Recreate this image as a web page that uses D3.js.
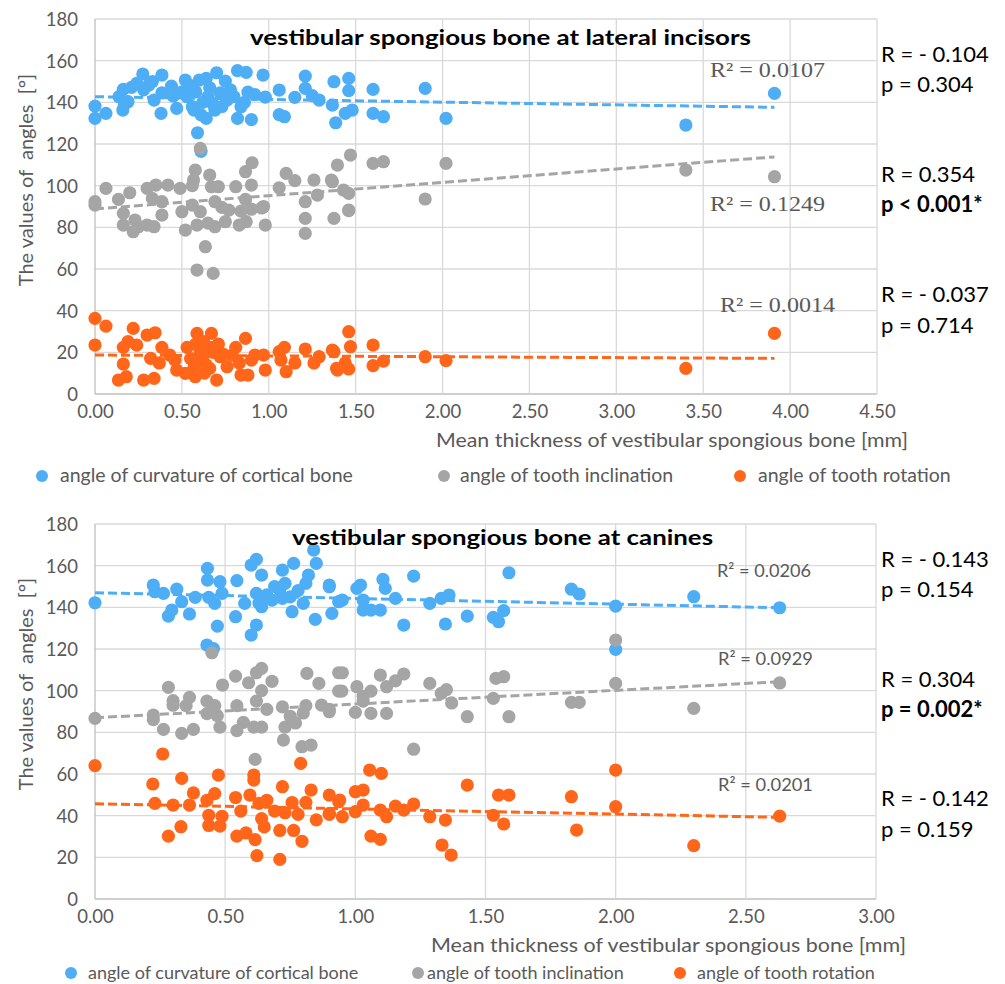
<!DOCTYPE html>
<html>
<head>
<meta charset="utf-8">
<script src="https://cdn.jsdelivr.net/npm/d3@7"></script>
<style>
  html, body { margin: 0; padding: 0; background: #fff; }
  svg { display: block; }
</style>
</head>
<body>
<svg id="chart" width="1005" height="984"></svg>
<script>
// ---------- DATA ----------
const yTicks = [0, 20, 40, 60, 80, 100, 120, 140, 160, 180];
const xTicksIncisors = [0, 0.5, 1, 1.5, 2, 2.5, 3, 3.5, 4, 4.5];
const xTicksCanines = [0, 0.5, 1, 1.5, 2, 2.5, 3];
const seriesNames = ["angle of curvature of cortical bone", "angle of tooth inclination", "angle of tooth rotation"];
const seriesColors = ["#4DAEF6", "#A5A5A5", "#FF6619"];

// Lateral incisors: [thickness mm, angle °]
const incisorsCurvature = [[0,138.2],[0,132.3],[0.063,134.7],[0.138,142.7],[0.163,146.2],[0.16,136.3],[0.19,140.3],[0.21,147.2],[0.24,149.1],[0.275,153.6],[0.31,148.3],[0.34,141.1],[0.38,134.7],[0.385,153.1],[0.385,144.6],[0.44,147.8],[0.47,137.1],[0.52,150.7],[0.53,142.7],[0.56,137.9],[0.59,125.4],[0.57,136.3],[0.6,150.7],[0.64,151.5],[0.64,132.3],[0.65,142.7],[0.69,136.3],[0.70,154.2],[0.72,144.6],[0.75,150.2],[0.76,141.1],[0.8,142.7],[0.82,155.2],[0.82,132.3],[0.84,137.9],[0.87,154.4],[0.88,144.9],[0.90,131.7],[0.92,143.7],[0.967,153.1],[0.98,142.5],[1.06,145.9],[1.06,134.1],[1.09,133.1],[1.15,142.4],[1.21,152.6],[1.21,146.7],[1.25,143.2],[1.29,141.1],[1.375,149.9],[1.366,138.7],[1.385,130.2],[1.46,151.5],[1.46,145.6],[1.44,134.7],[1.48,136.3],[1.6,146.2],[1.6,134.7],[1.66,133.1],[1.9,146.7],[2.02,132.3],[3.40,129.1],[3.91,144.3],[0.58,145],[0.62,140],[0.66,147],[0.68,139],[0.55,148],[0.61,134],[0.73,138],[0.78,146],[0.86,140],[0.45,143],[0.5,145],[0.28,146],[0.33,150],[0.17,139],[0.61,116.5]];
const incisorsInclination = [[0,92.3],[0.063,98.7],[0.135,93.4],[0.2,96.6],[0.30,98.7],[0.35,100.3],[0.33,93.9],[0.385,92.3],[0.42,100.3],[0.49,98.7],[0.56,100],[0.577,107.5],[0.567,102.7],[0.606,87.5],[0.606,117.9],[0.66,105.1],[0.67,99.5],[0.71,99.5],[0.69,92.3],[0.73,89.6],[0.81,99.5],[0.866,106.7],[0.904,111],[0.90,100.3],[0.866,93.4],[0.84,87.8],[0.96,89.3],[1.06,99.0],[1.10,105.9],[1.15,102.4],[1.21,92.3],[1.26,102.7],[1.28,95.5],[1.366,101.9],[1.395,109.9],[1.47,114.7],[1.46,96.3],[1.36,102.7],[1.43,97.9],[1.6,110.7],[1.66,111.5],[2.02,110.7],[1.90,93.6],[1.46,88.0],[3.40,107.5],[3.91,104.3],[0,90.7],[0.163,86.7],[0.163,81.1],[0.22,77.9],[0.23,83.5],[0.30,81.1],[0.34,80.3],[0.25,80.3],[0.385,85.9],[0.50,87.5],[0.52,78.7],[0.56,90.7],[0.587,81.1],[0.65,82],[0.635,70.7],[0.587,59.5],[0.68,57.9],[0.69,80.3],[0.75,82.7],[0.77,88.3],[0.83,81.1],[0.87,82.7],[0.90,88.7],[0.97,90],[0.98,81.1],[1.21,84.3],[1.21,77.1],[1.375,84.3],[1.46,88.3]];
const incisorsRotation = [[0,36.3],[0,23.5],[0.063,32.6],[0.135,6.7],[0.18,8.3],[0.163,14.4],[0.163,22.4],[0.19,25.1],[0.22,31.5],[0.24,23.5],[0.28,6.7],[0.34,7.5],[0.30,28.3],[0.346,29.4],[0.32,17.1],[0.385,22.4],[0.37,14.9],[0.43,18.7],[0.46,16.3],[0.47,11.5],[0.52,9.9],[0.53,22.4],[0.587,29.1],[0.577,8.3],[0.60,16.3],[0.606,20.3],[0.625,25.1],[0.67,29.1],[0.67,22.4],[0.66,12.3],[0.70,6.7],[0.72,17.9],[0.76,13.1],[0.79,18.7],[0.81,22.4],[0.83,14.9],[0.866,26.7],[0.84,9.1],[0.88,9.1],[0.90,16.3],[0.92,18.7],[0.97,18.7],[0.98,11.5],[1.06,20.3],[1.09,22.4],[1.07,16.3],[1.10,10.7],[1.15,14.9],[1.21,21.6],[1.26,14.9],[1.29,17.9],[1.366,21.1],[1.39,12.3],[1.375,20.3],[1.395,11.5],[1.46,29.9],[1.47,22.7],[1.44,14.9],[1.46,12.0],[1.6,23.5],[1.6,13.6],[1.66,15.8],[1.9,17.9],[2.02,16.0],[3.40,12.3],[3.91,29.1],[0.58,24],[0.62,18],[0.64,14],[0.68,20],[0.55,17],[0.63,10],[0.71,24],[0.74,19],[0.57,13]];

// Canines: [thickness mm, angle °]
const caninesCurvature = [[0,142.2],[0.224,150.7],[0.23,147.5],[0.263,146.7],[0.282,135.8],[0.295,138.7],[0.314,148.7],[0.333,142.7],[0.363,136.8],[0.385,144.8],[0.432,158.7],[0.432,153.1],[0.43,121.9],[0.455,120.2],[0.437,144.8],[0.46,141.9],[0.47,131],[0.48,152.3],[0.488,146.7],[0.54,135.5],[0.545,152.8],[0.575,141.9],[0.60,160.3],[0.62,163],[0.62,131.5],[0.60,126.7],[0.64,155.5],[0.62,146.7],[0.64,140.3],[0.68,143.5],[0.71,148.3],[0.72,157.9],[0.73,151.5],[0.72,144.3],[0.757,137.9],[0.763,161.1],[0.80,141.9],[0.82,155.5],[0.85,161.1],[0.84,167.5],[0.81,151.5],[0.846,134.2],[0.90,150.7],[0.91,137.1],[0.936,142.7],[0.90,149.9],[0.95,143.5],[1.006,149.1],[1.02,150.7],[1.03,143.5],[1.03,138.7],[1.06,138.7],[1.096,138.7],[1.106,153.4],[1.115,149.1],[1.154,144.3],[1.186,131.5],[1.224,155],[1.286,141.9],[1.33,144.3],[1.36,145.9],[1.346,132],[1.43,135.8],[1.53,135.2],[1.55,133.1],[1.57,138.4],[1.59,156.6],[1.83,148.7],[1.86,146.4],[2.0,140.6],[2.0,119.8],[2.30,145.1],[2.63,139.8],[0.66,146],[0.69,150],[0.75,145],[0.78,148],[0.63,142]];
const caninesInclination = [[0,86.7],[0.224,88.3],[0.282,101.6],[0.30,95.2],[0.363,96.8],[0.35,92.8],[0.449,118.2],[0.49,102.7],[0.43,95],[0.46,92.8],[0.54,107],[0.545,92.8],[0.59,103.8],[0.62,108.6],[0.64,110.7],[0.64,100.0],[0.62,95],[0.68,104.5],[0.66,91],[0.72,92.2],[0.814,108.3],[0.86,103.5],[0.81,92.8],[0.75,87.7],[0.936,108.6],[0.90,91],[0.936,99.8],[0.224,86.1],[0.263,81.4],[0.333,79.5],[0.378,81.4],[0.48,82.5],[0.545,80.8],[0.57,84.8],[0.61,82.5],[0.64,82.5],[0.615,67.0],[0.724,76.3],[0.73,82.5],[0.77,84.5],[0.795,73.1],[0.83,73.9],[0.80,89.3],[0.90,89.9],[0.87,93.1],[0.43,89],[0.30,93],[0.47,88],[0.95,108.6],[0.948,99.8],[1.006,101.9],[1.03,97.3],[1.06,99.8],[1.03,95],[1.096,107.5],[1.12,101.9],[1.154,104.7],[1.186,108],[1.286,103.5],[1.33,98.7],[1.35,100.5],[1.37,94.1],[1.0,89.6],[1.06,89.1],[1.12,89.1],[1.43,87.5],[1.53,96.3],[1.54,105.9],[1.57,106.7],[1.59,87.5],[1.83,94.4],[1.86,94.4],[2.0,124.3],[2.0,103.5],[1.224,71.9],[2.30,91.5],[2.63,103.7]];
const caninesRotation = [[0,64],[0.222,55.2],[0.26,69.6],[0.23,45.9],[0.30,45.1],[0.282,30.2],[0.33,34.7],[0.333,57.9],[0.363,45.1],[0.378,50.9],[0.43,47.4],[0.437,40.2],[0.437,35.3],[0.474,59.5],[0.46,50.6],[0.48,35],[0.488,39.7],[0.54,48.7],[0.56,42.2],[0.545,30.2],[0.58,31.7],[0.615,28.5],[0.622,20.8],[0.61,59.5],[0.61,57.1],[0.595,49.9],[0.63,45.9],[0.64,38.6],[0.65,34.6],[0.66,47.4],[0.69,42.2],[0.71,19.0],[0.72,53.9],[0.71,32.9],[0.73,41.4],[0.757,46.3],[0.763,32.9],[0.79,65.1],[0.795,27.7],[0.78,40.6],[0.81,46.4],[0.83,52.3],[0.85,38.0],[0.90,49.9],[0.90,40.6],[0.936,46.7],[0.90,41.1],[0.94,47.5],[0.95,39.5],[1.0,51.5],[1.03,52.3],[1.03,45.1],[1.00,41.9],[1.055,61.9],[1.10,60.3],[1.06,30.2],[1.096,28.6],[1.096,42.7],[1.12,39.5],[1.154,44.6],[1.186,42.7],[1.224,45.6],[1.286,39.5],[1.346,37.9],[1.333,25.9],[1.368,21.1],[1.43,54.7],[1.53,40.2],[1.55,49.9],[1.59,49.9],[1.57,36.0],[1.83,49.1],[1.85,33.1],[2.0,61.9],[2.0,44.3],[2.30,25.6],[2.63,39.8]];

// Linear trend lines: [value at x=0, value at last x], last x
const incisorsTrend = [[142.7, 137.6], [88.8, 113.8], [18.7, 17.1]];
const incisorsTrendEnd = 3.91;
const caninesTrend = [[147.0, 139.8], [87.0, 104.3], [45.7, 39.2]];
const caninesTrendEnd = 2.63;

const incisorsR2 = ["R² = 0.0107", "R² = 0.1249", "R² = 0.0014"];
const caninesR2 = ["R² = 0.0206", "R² = 0.0929", "R² = 0.0201"];
const incisorsStats = [["R = - 0.104", "p = 0.304"], ["R = 0.354", "p < 0.001*"], ["R = - 0.037", "p = 0.714"]];
const caninesStats = [["R = - 0.143", "p = 0.154"], ["R = 0.304", "p = 0.002*"], ["R = - 0.142", "p = 0.159"]];
const boldStat = [false, true, false];

// ---------- DRAWING ----------
const svg = d3.select("#chart");
const FONT = "Lato, 'Open Sans', sans-serif";

function drawPanel(cfg) {
  const g = svg.append("g");
  const x = d3.scaleLinear().domain(cfg.xDomain).range(cfg.xRange);
  const y = d3.scaleLinear().domain([0, 180]).range(cfg.yRange);

  // gridlines
  g.append("g").selectAll("line.h").data(yTicks).join("line")
    .attr("x1", x(cfg.xDomain[0])).attr("x2", x(cfg.xDomain[1]))
    .attr("y1", d => y(d)).attr("y2", d => y(d))
    .attr("stroke", d => d === 0 ? "#BFBFBF" : "#D9D9D9").attr("stroke-width", 1.3);
  g.append("g").selectAll("line.v").data(cfg.xTicks).join("line")
    .attr("x1", d => x(d)).attr("x2", d => x(d))
    .attr("y1", y(0)).attr("y2", y(180))
    .attr("stroke", d => d === 0 ? "#BFBFBF" : "#D9D9D9").attr("stroke-width", 1.3);

  // axis tick labels via d3 axes
  const yAxis = d3.axisLeft(y).tickValues(yTicks).tickSize(0).tickPadding(0).tickFormat(d3.format("d"));
  const ya = g.append("g").attr("transform", `translate(${x(0) - 17},0)`).call(yAxis);
  ya.select(".domain").remove();
  ya.selectAll("text").attr("font-family", FONT).attr("font-size", 18.5).attr("fill", "#595959").attr("dy", "0.35em");

  const xAxis = d3.axisBottom(x).tickValues(cfg.xTicks).tickSize(0).tickPadding(0).tickFormat(d => d.toFixed(2));
  const xa = g.append("g").attr("transform", `translate(0,${y(0) + 11})`).call(xAxis);
  xa.select(".domain").remove();
  xa.selectAll("text").attr("font-family", FONT).attr("font-size", 18.5).attr("fill", "#595959");

  // points
  cfg.series.forEach((s, i) => {
    g.append("g").selectAll("circle").data(s).join("circle")
      .attr("cx", d => x(d[0])).attr("cy", d => y(d[1])).attr("r", 6.6)
      .attr("fill", seriesColors[i]);
  });

  // trend lines
  cfg.trend.forEach((t, i) => {
    g.append("line")
      .attr("x1", x(0)).attr("y1", y(t[0]))
      .attr("x2", x(cfg.trendEnd)).attr("y2", y(t[1]))
      .attr("stroke", seriesColors[i]).attr("stroke-width", 3)
      .attr("stroke-dasharray", "9,4");
  });

  // R² labels
  cfg.r2.forEach((t, i) => {
    g.append("text").attr("x", cfg.r2Pos[i][0]).attr("y", cfg.r2Pos[i][1])
      .attr("font-family", cfg.r2Font).attr("font-size", cfg.r2Size).attr("fill", "#595959")
      .attr("textLength", cfg.r2Pos[i][2]).attr("lengthAdjust", "spacingAndGlyphs")
      .text(t);
  });

  // title
  g.append("text").attr("x", cfg.titlePos[0]).attr("y", cfg.titlePos[1])
    .attr("font-family", FONT).attr("font-weight", "bold").attr("font-size", 21).attr("fill", "#000")
    .attr("textLength", cfg.titlePos[2]).attr("lengthAdjust", "spacingAndGlyphs")
    .text(cfg.title);

  // y axis title
  g.append("text")
    .attr("transform", `translate(${cfg.yTitle[0]},${cfg.yTitle[1]}) rotate(-90)`)
    .attr("text-anchor", "middle").attr("font-family", FONT).attr("font-size", 20).attr("fill", "#595959")
    .attr("xml:space", "preserve")
    .text("The values of  angles  [°]");

  // x axis title
  g.append("text").attr("x", cfg.xTitle[0]).attr("y", cfg.xTitle[1])
    .attr("font-family", FONT).attr("font-size", 20).attr("fill", "#595959")
    .attr("textLength", cfg.xTitle[2]).attr("lengthAdjust", "spacingAndGlyphs")
    .text("Mean thickness of vestibular spongious bone [mm]");

  // stats
  cfg.stats.forEach((pair, i) => {
    g.append("text").attr("x", 881).attr("y", cfg.statY[i][0])
      .attr("font-family", FONT).attr("font-size", 22).attr("fill", "#000").text(pair[0]);
    g.append("text").attr("x", 881).attr("y", cfg.statY[i][1])
      .attr("font-family", FONT).attr("font-size", 22).attr("fill", "#000")
      .attr("font-weight", boldStat[i] ? "bold" : "normal").text(pair[1]);
  });

  // legend
  seriesNames.forEach((n, i) => {
    const lp = cfg.legend[i];
    g.append("circle").attr("cx", lp[0]).attr("cy", cfg.legendY - 6).attr("r", 6).attr("fill", seriesColors[i]);
    g.append("text").attr("x", lp[1]).attr("y", cfg.legendY)
      .attr("font-family", FONT).attr("font-size", cfg.legendSize).attr("fill", "#595959").text(n);
  });
}

drawPanel({
  xDomain: [0, 4.5], xRange: [95, 877], yRange: [394, 19], xTicks: xTicksIncisors,
  series: [incisorsCurvature, incisorsInclination, incisorsRotation],
  trend: incisorsTrend, trendEnd: incisorsTrendEnd,
  r2: incisorsR2, r2Font: "'Liberation Serif', 'Times New Roman', serif", r2Size: 22,
  r2Pos: [[710, 77, 115], [710, 211, 115], [720, 312, 115]],
  title: "vestibular spongious bone at lateral incisors", titlePos: [250, 45, 501],
  yTitle: [33, 180], xTitle: [436, 447, 472],
  stats: incisorsStats, statY: [[62, 92], [182, 212], [302, 333]],
  legend: [[42, 60], [444, 460], [740, 758]], legendY: 482, legendSize: 19.5
});

drawPanel({
  xDomain: [0, 3], xRange: [95, 876], yRange: [899, 524], xTicks: xTicksCanines,
  series: [caninesCurvature, caninesInclination, caninesRotation],
  trend: caninesTrend, trendEnd: caninesTrendEnd,
  r2: caninesR2, r2Font: FONT, r2Size: 18,
  r2Pos: [[717, 577, 94], [718, 665, 95], [718, 791, 95]],
  title: "vestibular spongious bone at canines", titlePos: [292, 545, 421],
  yTitle: [33, 684], xTitle: [431, 952, 475],
  stats: caninesStats, statY: [[567, 597], [687, 717], [806, 837]],
  legend: [[71, 88], [418, 427], [680, 697]], legendY: 979, legendSize: 18
});
</script>
</body>
</html>
